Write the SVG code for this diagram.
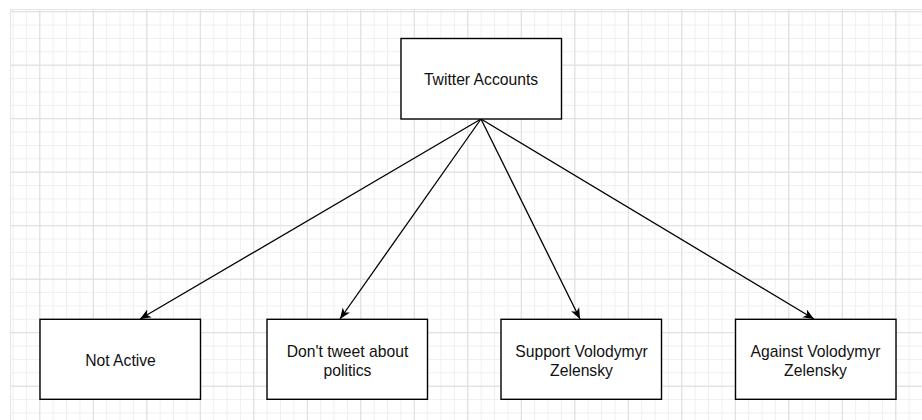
<svg xmlns="http://www.w3.org/2000/svg" width="922" height="420" viewBox="0 0 922 420">
<style>
.box{fill:#ffffff;stroke:#000000;stroke-width:1.4}
.lbl{font-family:"Liberation Sans",Arial,sans-serif;font-size:15.7px;fill:#111111;text-anchor:middle}
.edge{stroke:#000000;stroke-width:1.3;fill:none;marker-end:url(#arr)}
</style>
<defs>
<pattern id="minor" patternUnits="userSpaceOnUse" x="39.3" y="64.7" width="13.375" height="13.375">
<path d="M0.5,0 V13.375 M0,0.5 H13.375" stroke="#efefef" stroke-width="1" fill="none"/>
</pattern>
<pattern id="major" patternUnits="userSpaceOnUse" x="39.3" y="64.7" width="53.5" height="53.5">
<path d="M0.5,0 V53.5 M0,0.5 H53.5" stroke="#dddddd" stroke-width="1" fill="none"/>
</pattern>
<marker id="arr" markerUnits="userSpaceOnUse" markerWidth="12" markerHeight="10" refX="11" refY="4.5" orient="auto" viewBox="0 0 12 9">
<path d="M0,0 L11,4.5 L0,9 L3,4.5 Z" fill="#000000"/>
</marker>
</defs>
<rect width="922" height="420" fill="#ffffff"/>
<g id="grid">
<rect x="10" y="9" width="912" height="411" fill="url(#minor)"/>
<rect x="10" y="9" width="912" height="411" fill="url(#major)"/>
<path d="M10.5,9 V420 M10,9.5 H922" stroke="#e6e6e6" stroke-width="1"/>
</g>
<g id="connectors">
<line class="edge" x1="481" y1="119" x2="140" y2="319"/>
<line class="edge" x1="481" y1="119" x2="340" y2="319"/>
<line class="edge" x1="481" y1="119" x2="580" y2="319"/>
<line class="edge" x1="481" y1="119" x2="814" y2="319"/>
</g>
<g id="twitter-accounts">
<rect class="box" x="401" y="38.5" width="160.5" height="80.5"/>
<text class="lbl" x="481" y="85">Twitter Accounts</text>
</g>
<g id="not-active">
<rect class="box" x="40" y="319.3" width="160.5" height="80"/>
<text class="lbl" x="120.5" y="365.5">Not Active</text>
</g>
<g id="dont-tweet">
<rect class="box" x="267" y="319.3" width="160.5" height="80"/>
<text class="lbl" x="347.5" y="356.5">Don't tweet about</text>
<text class="lbl" x="347.5" y="375.5">politics</text>
</g>
<g id="support">
<rect class="box" x="501" y="319.3" width="160.5" height="80"/>
<text class="lbl" x="581.5" y="356.5">Support Volodymyr</text>
<text class="lbl" x="581.5" y="375.5">Zelensky</text>
</g>
<g id="against">
<rect class="box" x="735.5" y="319.3" width="160.5" height="80"/>
<text class="lbl" x="815.5" y="356.5">Against Volodymyr</text>
<text class="lbl" x="815.5" y="375.5">Zelensky</text>
</g>
</svg>
